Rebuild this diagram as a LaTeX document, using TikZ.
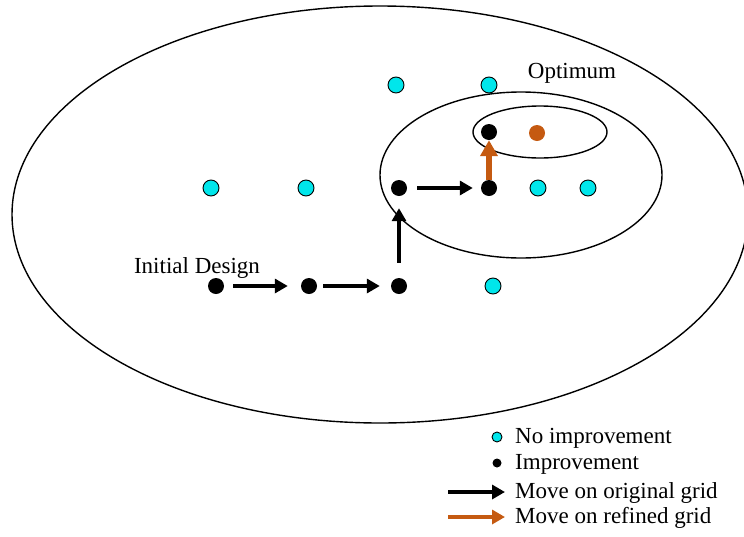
\documentclass[tikz,border=0pt]{standalone}
\usepackage{fontspec}
\setmainfont{Liberation Serif}
\usetikzlibrary{arrows.meta, positioning}

\definecolor{refined}{RGB}{197,90,17}
\definecolor{dotcyan}{RGB}{0,230,235}

\begin{document}
\begin{tikzpicture}[
	x=1pt, y=-1pt,
	font=\fontsize{23}{27}\selectfont,
	nochange/.style={circle, draw, fill=dotcyan, minimum size=16pt, inner sep=0pt, line width=0.9pt},
	better/.style={circle, fill=black, minimum size=16pt, inner sep=0pt},
	bestdot/.style={circle, fill=refined, minimum size=16pt, inner sep=0pt},
	oldmove/.style={-{Triangle[length=13pt,width=14pt]}, line width=4.5pt, black},
	newmove/.style={-{Triangle[length=16pt,width=17pt]}, line width=6.5pt, refined},
	region/.style={line width=1.4pt},
	lab/.style={inner sep=0pt, anchor=west}
	]
	\useasboundingbox (0,0) rectangle (744,536);
	
	% contours
	\draw[region] (380,214.5) ellipse [x radius=368, y radius=208.5];
	\draw[region] (521,175) ellipse [x radius=141, y radius=83];
	\draw[region] (540,132) ellipse [x radius=67, y radius=26];
	
	% bottom row
	\node[better] (p1) at (216,286) {};
	\node[better] (p2) at (309,286) {};
	\node[better] (p3) at (399,286) {};
	\node[nochange] (c1) at (493,286) {};
	
	% middle row
	\node[nochange] (c2) at (211,188) {};
	\node[nochange] (c3) at (306,188) {};
	\node[better] (p4) at (399,188) {};
	\node[better] (p5) at (489,188) {};
	\node[nochange] (c4) at (538,188) {};
	\node[nochange] (c5) at (588,188) {};
	
	% top row
	\node[nochange] (c6) at (396,85) {};
	\node[nochange] (c7) at (489,85) {};
	\node[better] (p6) at (489,132) {};
	\node[bestdot] (opt) at (537,133) {};
	
	% labels
	\node (init) at (197,268) {Initial Design};
	\node (optlab) at (572,73) {Optimum};
	
	% moves
	\draw[oldmove, shorten <=9pt, shorten >=13pt] (p1) -- (p2);
	\draw[oldmove, shorten <=6pt, shorten >=11pt] (p2) -- (p3);
	\draw[oldmove, shorten <=15pt, shorten >=12pt] (p3) -- (p4);
	\draw[oldmove, shorten <=10pt, shorten >=8pt] (p4) -- (p5);
	\draw[newmove] (p5) -- (p6);
	
	% legend
	\node[nochange, minimum size=10pt] (k1) at (497,437) {};
	\node[better, minimum size=9pt] (k2) at (497,463) {};
	\coordinate (a1) at (448,492);
	\coordinate (b1) at (505,492);
	\coordinate (a2) at (448,517);
	\coordinate (b2) at (505,517);
	\draw[oldmove] (a1) -- (b1);
	\draw[newmove, line width=4.5pt, -{Triangle[length=13pt,width=14pt]}] (a2) -- (b2);
	\node[lab] (t1) at (515,438) {No improvement};
	\node[lab] (t2) at (515,464) {Improvement};
	\node[lab] (t3) at (515,493) {Move on original grid};
	\node[lab] (t4) at (515,518) {Move on refined grid};
	
\end{tikzpicture}
\end{document}
